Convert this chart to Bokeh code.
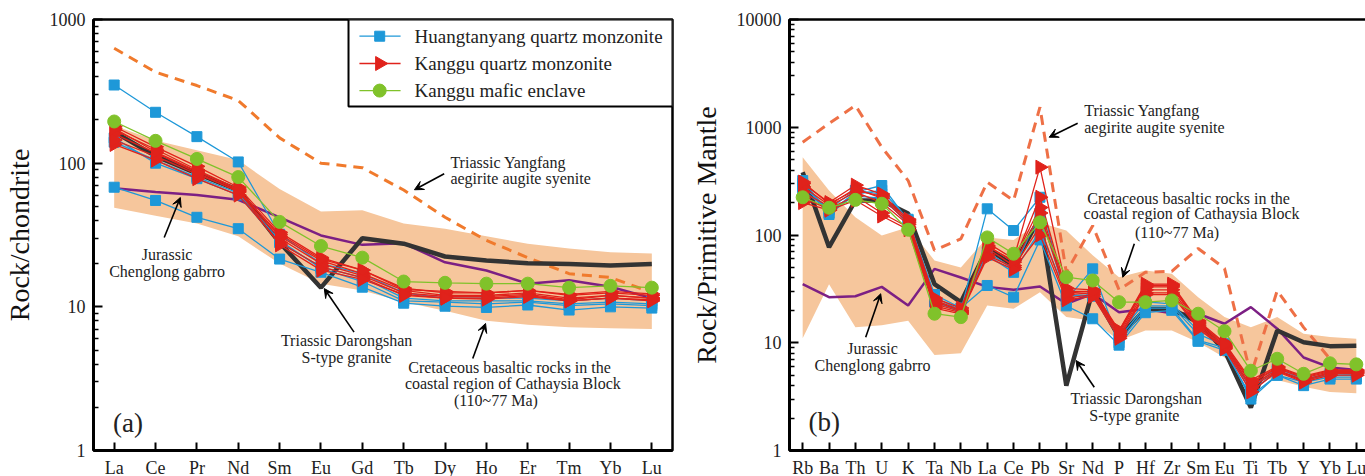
import numpy as np
from bokeh.plotting import figure
from bokeh.layouts import row
from bokeh.models import (Range1d, FixedTicker, Label, Arrow, VeeHead, BasicTickFormatter)
from bokeh.embed import file_html
from bokeh.resources import INLINE

FONT = "Liberation Serif"
nan = float("nan")

# ---------------- (a) chondrite-normalised REE ----------------
ree = ["La", "Ce", "Pr", "Nd", "Sm", "Eu", "Gd", "Tb", "Dy", "Ho", "Er", "Tm", "Yb", "Lu"]

ree_huangtanyang = [
    [350, 226, 153, 102, 32, 20, 17, 12.5, 11.5, 11.5, 11.5, 11, 11.5, 11],
    [150, 100, 78, 60, 28, 19, 16, 11.5, 11, 11, 11, 10.5, 10.8, 10.5],
    [140, 105, 80, 62, 29, 18.5, 15, 11, 10.8, 10.5, 10.8, 10.2, 10.5, 10.2],
    [68, 55, 42, 35, 21.5, 17.4, 13.7, 10.6, 10.1, 9.9, 10.3, 9.5, 10, 9.8],
]
ree_kanggu = [
    [180, 130, 95, 68, 33, 22, 18, 13.5, 12.5, 12.5, 13, 12, 12.5, 12],
    [170, 125, 90, 66, 31, 21, 17, 13, 12, 12, 12.5, 11.5, 12, 11.5],
    [160, 118, 86, 63, 30, 20, 16.5, 12.5, 11.8, 11.8, 12.2, 11.2, 12, 11.5],
    [135, 105, 78, 60, 28, 19, 16, 12, 11.5, 11.5, 12, 11, 11.5, 11.2],
    [145, 112, 84, 64, 32, 21.5, 18, 13.2, 12.8, 12.5, 13, 12.2, 12.8, 12.3],
    [175, 120, 88, 65, 27, 18, 15.5, 12.2, 11.5, 11.3, 11.8, 11, 11.5, 11],
]
ree_enclave = [
    [195, 143, 107, 80, 39, 26.5, 22, 15, 14.7, 14.5, 14.5, 13.6, 14, 13.6],
]
ree_yangfang = [631, 430, 347, 273, 150, 100, 93, 65, 42, 29, 22, 17, 16, 12.6]
ree_darongshan = [165, 112, 85, 65, 28, 13.6, 30, 27.5, 22.4, 21, 20.1, 19.9, 19.4, 19.9]
ree_chenglong = [67, 63, 60, 55.6, 42, 31.4, 27, 27.7, 20.4, 17.9, 14.5, 15.3, 13.8, 11.5]
ree_band_upper = [183, 144, 123, 105, 66, 46, 47, 38, 35, 31, 27.5, 25.5, 24, 23.5]
ree_band_lower = [49, 43, 38, 31, 20, 14.5, 13, 10.8, 9.4, 8.0, 7.5, 7.2, 7.1, 7.0]

# ---------------- (b) primitive-mantle-normalised spider ----------------
spider = ["Rb", "Ba", "Th", "U", "K", "Ta", "Nb", "La", "Ce", "Pb", "Sr", "Nd", "P",
          "Hf", "Zr", "Sm", "Eu", "Ti", "Tb", "Y", "Yb", "Lu"]

sp_huangtanyang = [
    [320, 160, 250, 288, 136, 26.5, 20, 175, 110, 224, 25, 48.5, 10, 21, 21, 10.5, 9, 3.0, 5.0, 4.3, 4.8, 4.8],
    [300, 155, 240, 260, 140, 28, 21, 34, 26.5, 90, 22, 16.7, 9.5, 19, 20, 10.3, 8.5, 3.2, 5.0, 4.0, 4.6, 4.6],
    [260, 170, 230, 220, 130, 25, 19, 70, 48, 160, 27, 28, 11, 22, 22, 12, 9.5, 3.5, 5.5, 4.5, 5.0, 5.0],
    [280, 175, 260, 240, 125, 24, 19.5, 65, 45, 110, 28, 27, 12, 24, 23, 13, 9.8, 3.8, 5.8, 4.6, 5.2, 5.1],
]
sp_kanggu = [
    [300, 200, 290, 240, 140, 26, 21, 85, 60, 426, 32, 31, 13, 35, 35, 16, 10, 4.5, 6.0, 4.9, 5.6, 5.6],
    [280, 190, 270, 220, 130, 24, 20, 80, 56, 224, 30, 30, 12.5, 33, 33, 15, 9.5, 4.2, 5.8, 4.7, 5.4, 5.4],
    [250, 185, 250, 200, 125, 23, 19.5, 75, 52, 160, 28, 29, 12, 31, 31, 14.5, 9.2, 4.0, 5.6, 4.5, 5.3, 5.3],
    [220, 175, 230, 160, 118, 22, 19, 65, 50, 120, 26, 28, 11.5, 29, 29, 14, 9.0, 3.8, 5.5, 4.4, 5.2, 5.2],
    [200, 170, 210, 150, 112, 21, 18.5, 62, 48, 100, 25, 27, 11, 28, 28, 13.5, 8.8, 3.5, 5.4, 4.3, 5.0, 5.0],
    [310, 195, 260, 230, 135, 25, 20, 78, 58, 180, 29, 30, 12.8, 34, 34, 15.5, 9.8, 4.3, 5.9, 4.8, 5.5, 5.5],
]
sp_enclave = [
    [224, 179, 212, 195, 112, 18.6, 17.3, 95, 67, 131, 40.6, 37.8, 23.8, 23.8, 24.7, 18.6, 12.8, 5.5, 7.1, 5.15, 6.45, 6.3],
]
sp_yangfang = [727, 1083, 1592, 653, 320, 72, 92, 309, 209, 1535, 45, 122, 31, 45, 46, 75, 49, 5.0, 30.5, 13.9, 7.1, nan]
sp_darongshan = [383, 77, 209, 209, 158, 35, 23.8, 75, 52, 146, 4.0, 30.5, 11.3, 20.6, 20.6, 15.5, 8.5, 2.5, 13, 10.1, 9.3, 9.4]
sp_chenglong = [35, 26.5, 27, 33, 22.2, 48.5, 40.3, 33, 31, 33.3, 23, 28.5, 19.2, 20.6, 18.8, 18.6, 15, 21.4, 13.5, 7.3, 5.9, 5.6]
sp_band_upper = [527, 259, 146, 99, 118, 58, 50, 95, 90, 130, 110, 65, 40.6, 46.8, 43.6, 26.5, 17.3, 13.9, 17.3, 12.1, 11.3, 10.9]
sp_band_lower = [11, 35, 13.9, 14.5, 16, 7.7, 8.0, 22.2, 20.7, 29.5, 17.3, 16, 10.5, 13, 13, 10.1, 7.3, 4.8, 4.5, 3.9, 3.5, 3.4]

legend_labels = ["Huangtanyang quartz monzonite", "Kanggu quartz monzonite", "Kanggu mafic enclave"]

BLUE = "#1E98D8"
RED = "#E0221B"
GREEN = "#80C22A"
BAND = "#F6C69C"
PURPLE = "#7C1F84"
DARK = "#333333"

STYLES = {
    "b": dict(color=BLUE, marker="square", size=10, angle=0.0),
    "r": dict(color=RED, marker="triangle", size=14, angle=-np.pi / 2),
    "g": dict(color=GREEN, marker="circle", size=13, angle=0.0),
}


def make_fig(cats, ymax, ylabel, left_border, right_border, frame_w):
    p = figure(width=10, height=476, y_axis_type="log",
               x_range=Range1d(-0.5, len(cats) - 0.5), y_range=Range1d(1, ymax),
               output_backend="svg", toolbar_location=None)
    p.frame_width = frame_w
    p.frame_height = 431
    p.min_border_left = left_border
    p.min_border_right = right_border
    p.min_border_top = 19
    p.min_border_bottom = 26
    p.xgrid.visible = False
    p.ygrid.visible = False
    p.outline_line_color = "black"
    p.outline_line_width = 2.5
    p.background_fill_color = "white"
    p.border_fill_color = "white"

    xa = p.xaxis[0]
    xa.ticker = FixedTicker(ticks=list(range(len(cats))))
    xa.major_label_overrides = {i: c for i, c in enumerate(cats)}
    xa.major_tick_in = 8
    xa.major_tick_out = 0
    xa.minor_tick_line_color = None
    xa.axis_line_width = 3
    xa.major_tick_line_width = 2
    xa.major_label_text_font = FONT
    xa.major_label_text_font_size = "18px"
    xa.major_label_text_color = "#222222"
    xa.major_label_standoff = 7

    decades = []
    v = 1
    while v <= ymax:
        decades.append(v)
        v *= 10
    minors = [d * k for d in decades[:-1] for k in range(2, 10)]
    ya = p.yaxis[0]
    ya.ticker = FixedTicker(ticks=decades, minor_ticks=minors)
    ya.formatter = BasicTickFormatter()
    ya.major_label_overrides = {d: str(d) for d in decades}
    ya.major_tick_in = 9
    ya.major_tick_out = 0
    ya.minor_tick_in = 5
    ya.minor_tick_out = 0
    ya.axis_line_width = 3
    ya.major_tick_line_width = 2
    ya.minor_tick_line_width = 1.5
    ya.major_label_text_font = FONT
    ya.major_label_text_font_size = "18px"
    ya.major_label_text_color = "#222222"
    ya.major_label_standoff = 8
    ya.axis_label = ylabel
    ya.axis_label_text_font = FONT
    ya.axis_label_text_font_size = "28px"
    ya.axis_label_text_font_style = "normal"
    ya.axis_label_text_color = "#111111"
    ya.axis_label_standoff = 12
    return p


def sample(p, x, y, key, lw=1.3, markers=True):
    st = STYLES[key]
    p.line(x, y, line_color=st["color"], line_width=lw)
    if markers:
        p.scatter(x, y, marker=st["marker"], size=st["size"], angle=st["angle"],
                  fill_color=st["color"], line_color=st["color"])


def draw(p, cats, band_lo, band_hi, yang, yang_color, chenglong, darong, blues, reds, greens):
    x = list(range(len(cats)))
    p.varea(x=x, y1=band_lo, y2=band_hi, fill_color=BAND, fill_alpha=1.0)
    p.line(x, yang, line_color=yang_color, line_width=3, line_dash="10 7")
    p.line(x, chenglong, line_color=PURPLE, line_width=2.5)
    p.line(x, darong, line_color=DARK, line_width=4.5)
    for s in blues:
        sample(p, x, s, "b")
    for s in reds:
        sample(p, x, s, "r")
    for s in greens:
        sample(p, x, s, "g")


def txt(p, x, y, t, align="center", size="16px"):
    p.add_layout(Label(x=x, y=y, text=t, text_font=FONT, text_font_size=size,
                       text_align=align, text_baseline="middle", text_color="#222222"))


def arrow(p, x0, y0, x1, y1):
    p.add_layout(Arrow(end=VeeHead(size=9, fill_color="black", line_color="black"),
                       x_start=x0, y_start=y0, x_end=x1, y_end=y1,
                       line_color="black", line_width=1.6))


# ---- panel (a)
pa = make_fig(ree, 1000, "Rock/chondrite", 86, 15, 579)
draw(pa, ree, ree_band_lower, ree_band_upper, ree_yangfang, "#F07A2C",
     ree_chenglong, ree_darongshan, ree_huangtanyang, ree_kanggu, ree_enclave)

txt(pa, 1.28, 23.2, "Jurassic")
txt(pa, 1.28, 17.7, "Chenglong gabrro")
arrow(pa, 1.21, 30.4, 1.6, 57.7)
txt(pa, 5.62, 5.84, "Triassic Darongshan")
txt(pa, 5.62, 4.43, "S-type granite")
arrow(pa, 5.80, 6.67, 5.08, 13.4)
txt(pa, 9.56, 3.80, "Cretaceous basaltic rocks in the")
txt(pa, 9.64, 2.92, "coastal region of Cathaysia Block")
txt(pa, 9.23, 2.23, "(110~77 Ma)")
arrow(pa, 8.67, 4.37, 8.98, 7.66)
txt(pa, 8.13, 101, "Triassic Yangfang", align="left")
txt(pa, 8.13, 77.8, "aegirite augite syenite", align="left")
arrow(pa, 7.98, 84.4, 7.26, 65.3)
txt(pa, -0.03, 1.55, "(a)", align="left", size="27px")

# legend box drawn by hand (so the right-pointing triangle is kept)
leg_box = dict(left=5.666, right=13.5, top=1000, bottom=248)
leg_rows = [765, 494, 320]
leg_line_x = [5.93, 6.925]
leg_marker_x = 6.42
leg_label_x = 7.264
pa.quad(fill_color="white", line_color="black", line_width=2, **leg_box)
for key, yv, lab in zip(["b", "r", "g"], leg_rows, legend_labels):
    sample(pa, leg_line_x, [yv, yv], key, markers=False)
    st = STYLES[key]
    pa.scatter([leg_marker_x], [yv], marker=st["marker"], size=st["size"], angle=st["angle"],
               fill_color=st["color"], line_color=st["color"])
    txt(pa, leg_label_x, yv, lab, align="left", size="19px")

# ---- panel (b)
pb = make_fig(spider, 10000, "Rock/Primitive Mantle", 93, 12, 580)
draw(pb, spider, sp_band_lower, sp_band_upper, sp_yangfang, "#EE7046",
     sp_chenglong, sp_darongshan, sp_huangtanyang, sp_kanggu, sp_enclave)

txt(pb, 10.68, 1429, "Triassic Yangfang", align="left")
txt(pb, 10.68, 1001, "aegirite augite syenite", align="left")
arrow(pb, 10.43, 1090, 9.35, 808)
txt(pb, 14.64, 219.5, "Cretaceous basaltic rocks in the")
txt(pb, 14.75, 157, "coastal region of Cathaysia Block")
txt(pb, 14.2, 106, "(110~77 Ma)")
arrow(pb, 12.58, 82.8, 12.14, 40.5)
txt(pb, 2.65, 8.79, "Jurassic")
txt(pb, 2.65, 6.15, "Chenglong gabrro")
arrow(pb, 2.39, 11.26, 2.96, 28.5)
txt(pb, 12.65, 3.02, "Triassic Darongshan")
txt(pb, 12.58, 2.11, "S-type granite")
arrow(pb, 11.06, 3.87, 10.37, 6.84)
txt(pb, 0.22, 1.83, "(b)", align="left", size="27px")

layout = row(pa, pb)
open("out.html", "w").write(file_html(layout, INLINE))
